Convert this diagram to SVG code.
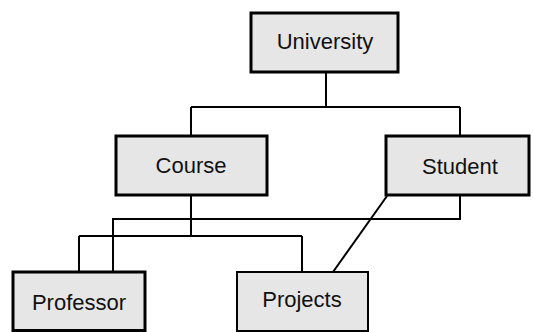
<svg xmlns="http://www.w3.org/2000/svg" width="533" height="332" viewBox="0 0 533 332">
<style>
.box{fill:#e6e6e6;stroke:#000;stroke-width:3}
.thin{stroke-width:2}
.lbl{font-family:"Liberation Sans",Arial,sans-serif;font-size:22px;fill:#111;text-anchor:middle}
.c{fill:none;stroke:#000;stroke-width:2}
</style>
<rect width="533" height="332" fill="#fff"/>
<g id="connectors">
<path class="c" d="M326,73 V107 M191,107 H460 M191,107 V135 M460,107 V135"/>
<path class="c" d="M460,195 V219 H113 V271"/>
<path class="c" d="M191,196 V236 M79,236 H302 M79,236 V271 M302,236 V272"/>
<path class="c" d="M387,196 L333,272"/>
</g>
<g id="university"><rect class="box" x="251" y="13" width="147" height="59"/><text class="lbl" x="325" y="49">University</text></g>
<g id="course"><rect class="box" x="116" y="136" width="151" height="59"/><text class="lbl" x="191" y="173">Course</text></g>
<g id="student"><rect class="box" x="386" y="136" width="143" height="59"/><text class="lbl" x="460" y="174">Student</text></g>
<g id="professor"><rect class="box" x="13" y="272" width="132" height="58.5"/><text class="lbl" x="79" y="310">Professor</text></g>
<g id="projects"><rect class="box thin" x="237" y="272" width="131" height="59"/><text class="lbl" x="302" y="307">Projects</text></g>
</svg>
